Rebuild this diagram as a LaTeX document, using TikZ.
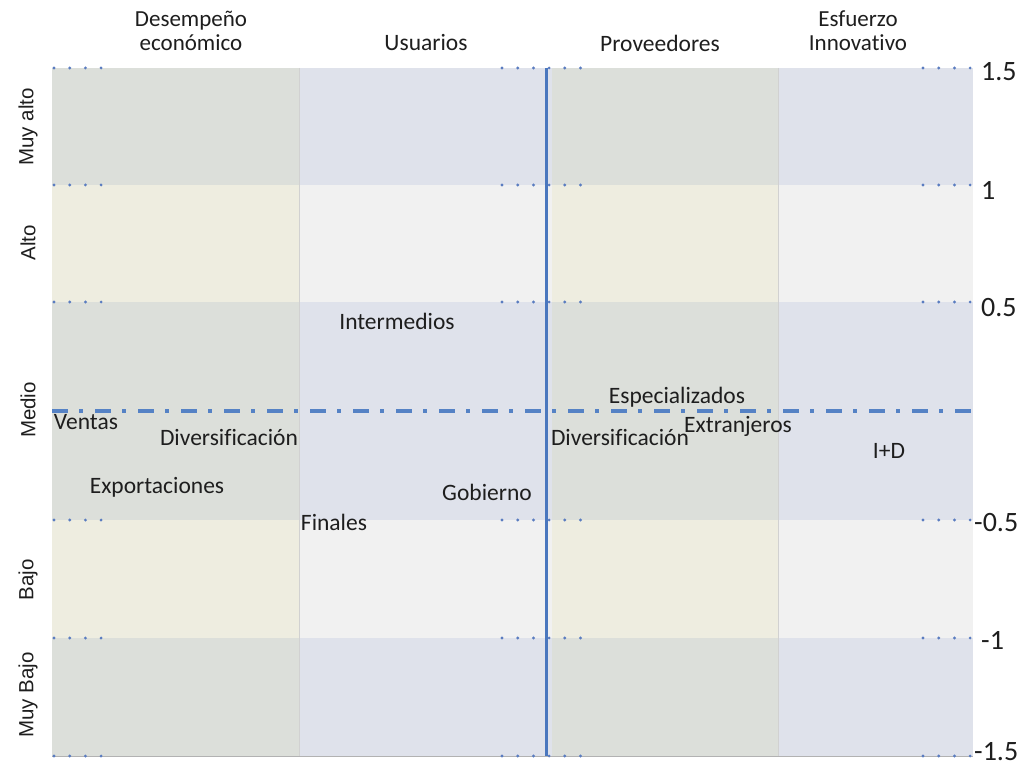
\documentclass[tikz,border=0pt]{standalone}
\usepackage{fontspec}
\setmainfont{Carlito}[Ligatures=NoCommon]
\newfontfamily\rowfont{Liberation Sans}
\definecolor{cAdark}{HTML}{DCDFDA}
\definecolor{cAlight}{HTML}{EEEDE0}
\definecolor{cBdark}{HTML}{DFE2EB}
\definecolor{cBlight}{HTML}{F1F1F1}
\definecolor{axisblue}{HTML}{4A77BE}
\definecolor{dashblue}{HTML}{5582C5}
\definecolor{dotblue}{HTML}{5A7CC0}
\definecolor{txt}{HTML}{1E1E1E}
\begin{document}
\begin{tikzpicture}[x=1pt,y=-1pt,
  lbl/.style={text=txt,font=\fontsize{23.5}{24}\selectfont,inner sep=0pt},
  hdr/.style={text=txt,font=\fontsize{23}{24}\selectfont,inner sep=0pt,align=center},
  rowlbl/.style={text=txt,font=\rowfont\fontsize{20.5}{22}\selectfont,rotate=90,inner sep=0pt},
  num/.style={text=txt,font=\fontsize{28}{30}\selectfont,anchor=west,inner sep=0pt},
  dotmark/.style={dotblue,line width=3.2pt,line cap=round,dash pattern=on 0pt off 15.7pt},
  sep/.style={draw=black!18,line width=0.8pt}]
\useasboundingbox (0,0) rectangle (1031,767);
\fill[white] (0,0) rectangle (1031,767);
% bands: columns A (1,3) and B (2,4)
\foreach \xa/\xb/\ca/\cb in {52/299/cAdark/cAlight,299/552/cBdark/cBlight,552/778/cAdark/cAlight,778/973/cBdark/cBlight}{
  \fill[\ca] (\xa,68) rectangle (\xb,185);
  \fill[\cb] (\xa,185) rectangle (\xb,302);
  \fill[\ca] (\xa,302) rectangle (\xb,520);
  \fill[\cb] (\xa,520) rectangle (\xb,638);
  \fill[\ca] (\xa,638) rectangle (\xb,756);
}
\draw[sep] (299,68) -- (299,756);
\draw[sep] (778,68) -- (778,756);
\draw[draw=black!30,line width=1pt] (52,756) -- (973,756);
% dotted tick marks
\foreach \y in {68,185,302,520,638,756}{
  \draw[dotmark] (54,\y) -- (102,\y);
  \draw[dotmark] (502,\y) -- (584,\y);
  \draw[dotmark] (923,\y) -- (972,\y);
}
% axes
\coordinate (vtop) at (546,68);
\coordinate (vbot) at (546,756);
\coordinate (hl) at (52,411);
\coordinate (hr) at (975,411);
\draw[dashblue,line width=4pt,dash pattern=on 16pt off 11pt on 4pt off 12pt] (hl) -- (hr);
\draw[axisblue,line width=3pt] (vtop) -- (vbot);
% headers
\node[hdr] (h1) at (191,31) {Desempeño\\económico};
\node[lbl] (h2) at (426,43) {Usuarios};
\node[lbl] (h3) at (660,43) {Proveedores};
\node[hdr] (h4) at (858,31) {Esfuerzo\\Innovativo};
% row labels
\node[rowlbl] (r1) at (28,127) {Muy alto};
\node[rowlbl] (r2) at (28,243) {Alto};
\node[rowlbl] (r3) at (28,410) {Medio};
\node[rowlbl] (r4) at (28,580) {Bajo};
\node[rowlbl] (r5) at (28,695) {Muy Bajo};
% numbers
\node[num] (n1) at (981,72) {1.5};
\node[num] (n2) at (981,190) {1};
\node[num] (n3) at (981,308) {0.5};
\node[num] (n4) at (974,523) {-0.5};
\node[num] (n5) at (981,640) {-1};
\node[num] (n6) at (974,752) {-1.5};
% data labels
\node[lbl] (intermedios) at (397,321) {Intermedios};
\node[lbl] (ventas) at (86,422) {Ventas};
\node[lbl] (div1) at (229,438) {Diversificación};
\node[lbl] (export) at (157,487) {Exportaciones};
\node[lbl] (finales) at (334,522) {Finales};
\node[lbl] (gobierno) at (487,492) {Gobierno};
\node[lbl] (especial) at (677,397) {Especializados};
\node[lbl] (div2) at (620,438) {Diversificación};
\node[lbl] (extranj) at (738,426) {Extranjeros};
\node[lbl] (ID) at (889,451) {I+D};
\end{tikzpicture}
\end{document}
